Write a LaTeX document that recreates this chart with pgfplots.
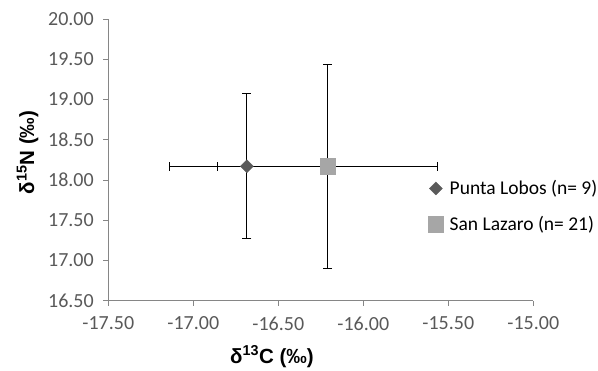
\documentclass[border=0pt]{standalone}
\usepackage{fontspec}
\setmainfont{Carlito}
\newfontfamily\arialf{Liberation Sans}
\usepackage{pgfplots}
\pgfplotsset{compat=1.18}
\definecolor{axgray}{HTML}{868686}
\definecolor{txtgray}{HTML}{595959}
\definecolor{dkgray}{HTML}{5A5A5A}
\definecolor{ltgray}{HTML}{A6A6A6}
\begin{document}
\begin{tikzpicture}
\begin{axis}[
  name=ax,
  scale only axis,
  width=425pt, height=281.7pt,
  xmin=-17.5, xmax=-15, ymin=16.5, ymax=20,
  xtick={-17.5,-17,-16.5,-16,-15.5,-15},
  ytick={16.5,17,17.5,18,18.5,19,19.5,20},
  axis x line*=bottom, axis y line*=left,
  axis line style={axgray, line width=0.8pt, -},
  tick style={axgray, line width=0.8pt},
  tick align=outside, major tick length=5pt,
  /pgf/number format/.cd, fixed, fixed zerofill, precision=2, assume math mode=true,
  /pgfplots/.cd,
  ticklabel style={font=\fontsize{20}{23}\selectfont, text=txtgray},
  yticklabel style={xshift=-6pt},
  xticklabel style={yshift=-7.5pt},
  xlabel={\arialf\bfseries δ\textsuperscript{13}C (‰)},
  ylabel={\arialf\bfseries δ\textsuperscript{15}N (‰)},
  label style={font=\fontsize{20.5}{24}\selectfont},
  x label style={at={(axis description cs:0.385,-0.199)}, anchor=center},
  y label style={at={(axis description cs:-0.19,0.526)}, anchor=center, rotate=0},
  legend style={at={(axis description cs:0.752,0.335)}, anchor=west, draw=none, fill=none,
    inner sep=0pt, row sep=16pt, column sep=4pt, font=\fontsize{19.5}{23}\selectfont, text=black},
  legend cell align=left,
  legend image code/.code={\draw[#1] plot coordinates {(0pt,0pt)};},
  clip=false,
]
\addplot[only marks, mark=square*, mark size=4.6pt, mark options={rotate=45, fill=dkgray, draw=dkgray},
  error bars/.cd, x dir=both, x explicit, y dir=both, y explicit,
  error mark=|,
  error bar style={black, line width=1.1pt},
  error mark options={black, line width=1.1pt, mark size=4.5pt}]
  table[x=x, y=y, x error=ex, y error=ey] {
x y ex ey
-16.685 18.17 0.455 0.90
};
\addlegendentry{Punta Lobos (n= 9)}
\addplot[only marks, mark=square*, mark size=7.8pt, mark options={fill=ltgray, draw=ltgray},
  error bars/.cd, x dir=both, x explicit, y dir=both, y explicit,
  error mark=|,
  error bar style={black, line width=1.1pt},
  error mark options={black, line width=1.1pt, mark size=4.5pt}]
  table[x=x, y=y, x error=ex, y error=ey] {
x y ex ey
-16.21 18.17 0.645 1.27
};
\addlegendentry{San Lazaro (n= 21)}
\end{axis}
\pgfresetboundingbox
\path (ax.south west) ++(-108.3pt,-70.3pt) rectangle ++(598pt,371pt);
\end{tikzpicture}
\end{document}
